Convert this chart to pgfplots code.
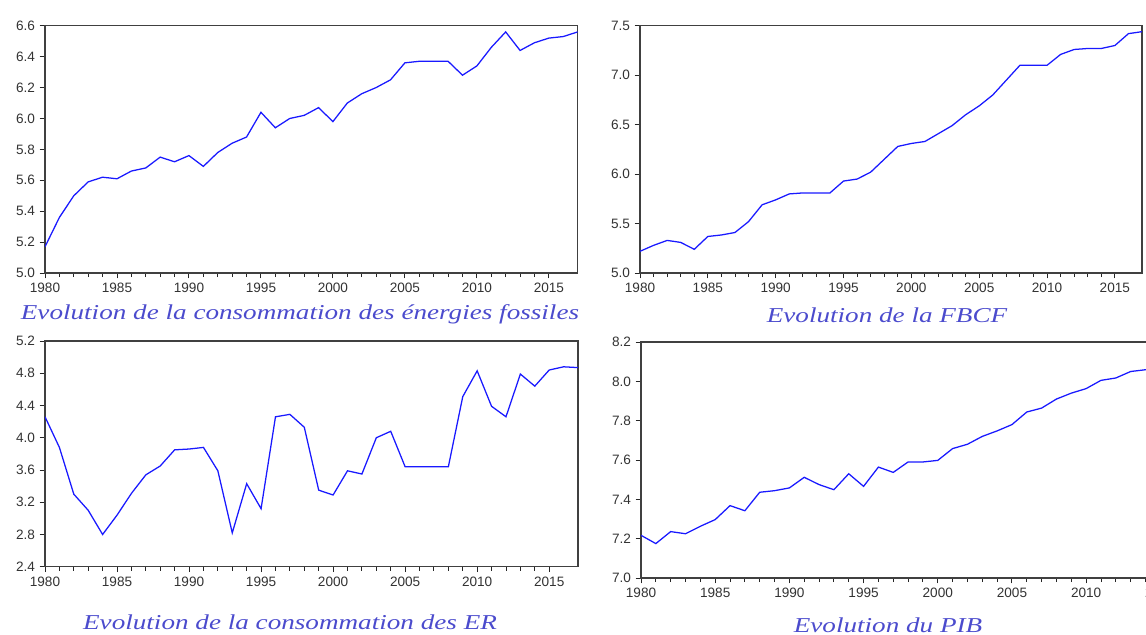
\documentclass[border=0pt]{standalone}
\usepackage{pgfplots}
\pgfplotsset{compat=1.18}
\usepackage{fontspec}
\setmainfont{Liberation Sans}
\newfontfamily\titlefont[FakeStretch=1.28]{Liberation Serif}
\definecolor{bleuserie}{RGB}{25,25,255}
\definecolor{titre}{RGB}{75,75,205}

\pgfplotsset{
  panel/.style={
    scale only axis,
    xmin=1980, xmax=2017,
    xtick={1980,1985,...,2015},
    minor x tick num=4,
    tick pos=left,
    tick align=outside,
    major tick length=4pt, minor tick length=3pt,
    axis line style={black!75, line width=1pt},
    every tick/.style={black!85, line width=0.7pt},
    tick label style={font=\fontsize{10.2}{12}\selectfont, text=black!80},
    /pgf/number format/assume math mode=true,
    xticklabel style={/pgf/number format/1000 sep={}},
    yticklabel style={/pgf/number format/fixed,
      /pgf/number format/fixed zerofill,
      /pgf/number format/precision=1},
  },
  courbe/.style={color=bleuserie, line width=0.95pt, mark=none},
}

\begin{document}
\begin{tikzpicture}

% Consommation des energies fossiles
\begin{axis}[panel, at={(33.75pt,-19.3pt)}, anchor=north west,
  width=399.5pt, height=185.5pt,
  ymin=5.0, ymax=6.6, ytick={5.0,5.2,5.4,5.6,5.8,6.0,6.2,6.4,6.6}]
\addplot[courbe] coordinates {
(1980,5.17) (1981,5.36) (1982,5.50) (1983,5.59) (1984,5.62) (1985,5.61)
(1986,5.66) (1987,5.68) (1988,5.75) (1989,5.72) (1990,5.76) (1991,5.69)
(1992,5.78) (1993,5.84) (1994,5.88) (1995,6.04) (1996,5.94) (1997,6.00)
(1998,6.02) (1999,6.07) (2000,5.98) (2001,6.10) (2002,6.16) (2003,6.20)
(2004,6.25) (2005,6.36) (2006,6.37) (2007,6.37) (2008,6.37) (2009,6.28)
(2010,6.34) (2011,6.46) (2012,6.56) (2013,6.44) (2014,6.49) (2015,6.52)
(2016,6.53) (2017,6.56)};
\end{axis}

% FBCF
\begin{axis}[panel, at={(480pt,-19.3pt)}, anchor=north west,
  width=376.5pt, height=185.5pt,
  ymin=5.0, ymax=7.5, ytick={5.0,5.5,6.0,6.5,7.0,7.5}]
\addplot[courbe] coordinates {
(1980,5.22) (1981,5.28) (1982,5.33) (1983,5.31) (1984,5.24) (1985,5.37)
(1986,5.385) (1987,5.41) (1988,5.52) (1989,5.69) (1990,5.74) (1991,5.80)
(1992,5.81) (1993,5.81) (1994,5.81) (1995,5.93) (1996,5.95) (1997,6.02)
(1998,6.15) (1999,6.28) (2000,6.31) (2001,6.33) (2002,6.41) (2003,6.49)
(2004,6.60) (2005,6.69) (2006,6.80) (2007,6.95) (2008,7.10) (2009,7.10)
(2010,7.10) (2011,7.21) (2012,7.26) (2013,7.27) (2014,7.27) (2015,7.30)
(2016,7.42) (2017,7.44)};
\end{axis}

% Consommation des energies renouvelables
\begin{axis}[panel, at={(33.75pt,-255.75pt)}, anchor=north west,
  width=399.75pt, height=169.3pt,
  ymin=2.4, ymax=5.2, ytick={2.4,2.8,3.2,3.6,4.0,4.4,4.8,5.2}]
\addplot[courbe] coordinates {
(1980,4.26) (1981,3.88) (1982,3.30) (1983,3.10) (1984,2.80) (1985,3.04)
(1986,3.31) (1987,3.54) (1988,3.65) (1989,3.85) (1990,3.86) (1991,3.88)
(1992,3.59) (1993,2.82) (1994,3.43) (1995,3.12) (1996,4.26) (1997,4.29)
(1998,4.13) (1999,3.35) (2000,3.29) (2001,3.59) (2002,3.55) (2003,4.00)
(2004,4.08) (2005,3.64) (2006,3.64) (2007,3.64) (2008,3.64) (2009,4.51)
(2010,4.83) (2011,4.39) (2012,4.26) (2013,4.79) (2014,4.64) (2015,4.84)
(2016,4.88) (2017,4.87)};
\end{axis}

% PIB
\begin{axis}[panel, at={(480.75pt,-256.5pt)}, anchor=north west,
  width=411.75pt, height=177pt,
  ymin=7.0, ymax=8.2, ytick={7.0,7.2,7.4,7.6,7.8,8.0,8.2}]
\addplot[courbe] coordinates {
(1980,7.217) (1981,7.175) (1982,7.236) (1983,7.225) (1984,7.263) (1985,7.297)
(1986,7.368) (1987,7.342) (1988,7.436) (1989,7.444) (1990,7.458) (1991,7.512)
(1992,7.475) (1993,7.449) (1994,7.530) (1995,7.466) (1996,7.564) (1997,7.537)
(1998,7.590) (1999,7.590) (2000,7.598) (2001,7.658) (2002,7.680) (2003,7.720)
(2004,7.748) (2005,7.780) (2006,7.844) (2007,7.864) (2008,7.910) (2009,7.940)
(2010,7.963) (2011,8.005) (2012,8.017) (2013,8.050) (2014,8.059) (2015,8.068)
(2016,8.080) (2017,8.090)};
\end{axis}

% Titres des graphiques
\begin{scope}[every node/.style={anchor=base, text=titre,
    font=\titlefont\itshape\fontsize{15.9}{18}\selectfont, inner sep=0pt}]
\node at (225pt,-239.25pt) {Evolution de la consommation des énergies fossiles};
\node at (665.25pt,-241.5pt) {Evolution de la FBCF};
\node at (217.5pt,-471.75pt) {Evolution de la consommation des ER};
\node at (666pt,-474pt) {Evolution du PIB};
\end{scope}

% Cadre de la figure
\pgfresetboundingbox
\path[use as bounding box] (0,0) rectangle (859.5pt,-476.25pt);
\end{tikzpicture}
\end{document}
